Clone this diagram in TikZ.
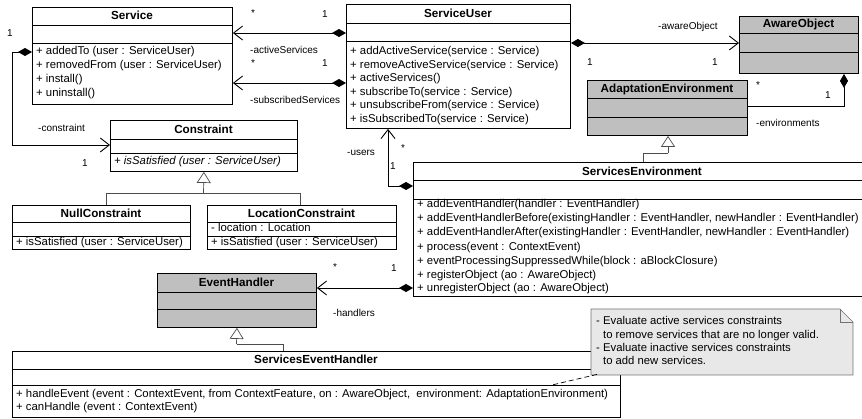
\documentclass[tikz,border=0pt]{standalone}
\usepackage{fontspec}
\setmainfont{Liberation Sans}
\usetikzlibrary{arrows.meta}
\begin{document}
\begin{tikzpicture}[x=1pt,y=-1pt,
  cls/.style={draw, line width=0.9pt, inner sep=0, anchor=north west, fill=white},
  gcls/.style={cls, fill=black!25},
  sep/.style={line width=0.9pt},
  ttl/.style={font=\fontsize{11.7}{14}\selectfont\bfseries, inner sep=0},
  mem/.style={font=\fontsize{11.35}{14}\selectfont, anchor=west, inner sep=0, text height=8.5pt, text depth=2.5pt},
  notetxt/.style={font=\fontsize{11.3}{14}\selectfont, anchor=west, inner sep=0, text height=8.5pt, text depth=2.5pt},
  lbl/.style={font=\fontsize{10}{12}\selectfont, inner sep=0},
  assoc/.style={line width=0.9pt, {Diamond[length=14pt,width=8pt]}-{Straight Barb[length=9pt,width=14pt]}},
  comp/.style={line width=0.9pt, {Diamond[length=14pt,width=8pt]}-},
  gen/.style={line width=0.7pt, draw=black!70, -{Triangle[open,length=11pt,width=14pt,fill=white]}},
  genline/.style={line width=0.7pt, draw=black!70},
  notelink/.style={line width=0.7pt, dashed, dash pattern=on 5pt off 3pt}
]
\useasboundingbox (0,0) rectangle (862,419);
\clip (0,0) rectangle (862,419);

% ---------- Service ----------
\node[cls, minimum width=200pt, minimum height=97pt] (service) at (32,7) {};
\draw[sep] (32,25) -- (232,25) (32,43) -- (232,43);
\node[ttl] (serviceT) at (132,15.5) {Service};
\node[mem] (s1) at (36,52) {+ addedTo (user : ServiceUser)};
\node[mem] (s2) at (36,66) {+ removedFrom (user : ServiceUser)};
\node[mem] (s3) at (36,80) {+ install()};
\node[mem] (s4) at (36,94) {+ uninstall()};

% ---------- ServiceUser ----------
\node[cls, minimum width=224pt, minimum height=124pt] (suser) at (346,4) {};
\draw[sep] (346,23) -- (570,23) (346,41) -- (570,41);
\node[ttl] (suserT) at (458,13) {ServiceUser};
\node[mem] (u1) at (350,52) {+ addActiveService(service : Service)};
\node[mem] (u2) at (350,65.5) {+ removeActiveService(service : Service)};
\node[mem] (u3) at (350,79) {+ activeServices()};
\node[mem] (u4) at (350,92.5) {+ subscribeTo(service : Service)};
\node[mem] (u5) at (350,106) {+ unsubscribeFrom(service : Service)};
\node[mem] (u6) at (350,119.5) {+ isSubscribedTo(service : Service)};

% ---------- AwareObject ----------
\node[gcls, minimum width=119pt, minimum height=57pt] (aware) at (739,16) {};
\draw[sep] (739,33) -- (858,33) (739,52) -- (858,52);
\node[ttl] (awareT) at (798.5,24.5) {AwareObject};

% ---------- AdaptationEnvironment ----------
\node[gcls, minimum width=160pt, minimum height=55pt] (adapt) at (587,80) {};
\draw[sep] (587,98) -- (747,98) (587,117) -- (747,117);
\node[ttl] (adaptT) at (667,89) {AdaptationEnvironment};

% ---------- Constraint ----------
\node[cls, minimum width=187pt, minimum height=51pt] (constraint) at (110,120) {};
\draw[sep] (110,139) -- (297,139) (110,153) -- (297,153);
\node[ttl] (constraintT) at (203.5,129) {Constraint};
\node[mem] (c1) at (114,161.5) {\itshape + isSatisfied (user : ServiceUser)};

% ---------- NullConstraint ----------
\node[cls, minimum width=178pt, minimum height=44pt] (nullc) at (12,205) {};
\draw[sep] (12,222) -- (190,222) (12,236) -- (190,236);
\node[ttl] (nullcT) at (101,213.5) {NullConstraint};
\node[mem] (n1) at (16,243) {+ isSatisfied (user : ServiceUser)};

% ---------- LocationConstraint ----------
\node[cls, minimum width=189pt, minimum height=44pt] (locc) at (207,205) {};
\draw[sep] (207,222) -- (396,222) (207,236) -- (396,236);
\node[ttl] (loccT) at (301.5,213.5) {LocationConstraint};
\node[mem] (l1) at (211,229) {- location : Location};
\node[mem] (l2) at (211,243) {+ isSatisfied (user : ServiceUser)};

% ---------- ServicesEnvironment ----------
\node[cls, minimum width=458pt, minimum height=134pt] (senv) at (413,162) {};
\draw[sep] (413,180) -- (871,180) (413,199) -- (871,199);
\node[ttl] (senvT) at (642,171) {ServicesEnvironment};
\node[mem] (e1) at (417,205) {+ addEventHandler(handler : EventHandler)};
\node[mem] (e2) at (417,219) {+ addEventHandlerBefore(existingHandler : EventHandler, newHandler : EventHandler)};
\node[mem] (e3) at (417,233) {+ addEventHandlerAfter(existingHandler : EventHandler, newHandler : EventHandler)};
\node[mem] (e4) at (417,247.5) {+ process(event : ContextEvent)};
\node[mem] (e5) at (417,261.5) {+ eventProcessingSuppressedWhile(block : aBlockClosure)};
\node[mem] (e6) at (417,275.5) {+ registerObject (ao : AwareObject)};
\node[mem] (e7) at (417,289) {+ unregisterObject (ao : AwareObject)};

% ---------- EventHandler ----------
\node[gcls, minimum width=159pt, minimum height=54pt] (evh) at (157,273) {};
\draw[sep] (157,292) -- (316,292) (157,309) -- (316,309);
\node[ttl] (evhT) at (236.5,282) {EventHandler};

% ---------- ServicesEventHandler ----------
\node[cls, minimum width=608pt, minimum height=66pt] (sevh) at (12,351) {};
\draw[sep] (12,369) -- (620,369) (12,385) -- (620,385);
\node[ttl] (sevhT) at (316,359.5) {ServicesEventHandler};
\node[mem] (h1) at (16,394.5) {+ handleEvent (event : ContextEvent, from ContextFeature, on : AwareObject, \ environment: AdaptationEnvironment)};
\node[mem] (h2) at (16,407.5) {+ canHandle (event : ContextEvent)};

% ---------- Note ----------
\draw[line width=0.6pt, draw=black!55, fill=black!9] (591,309) -- (840,309) -- (853,322) -- (853,375) -- (591,375) -- cycle;
\draw[line width=0.6pt, draw=black!55] (840,309) -- (840,322) -- (853,322);
\node[inner sep=0, minimum width=262pt, minimum height=66pt, anchor=north west] (note) at (591,309) {};
\node[notetxt] (t1) at (596,322) {- Evaluate active services constraints};
\node[notetxt] (t2) at (596,335.5) {\phantom{- }to remove services that are no longer valid.};
\node[notetxt] (t3) at (596,349) {- Evaluate inactive services constraints};
\node[notetxt] (t4) at (596,362) {\phantom{- }to add new services.};
\coordinate (notetail) at (552,385);
\draw[notelink] (note.south west) ++(6,-1) -- (notetail);

% ---------- Connectors ----------
\draw[assoc] (suser.west |- 0,33) -- (service.east |- 0,33);
\draw[assoc] (suser.west |- 0,83) -- (service.east |- 0,83);
\draw[assoc] (service.west |- 0,52) -- (12,52) -- (12,145) -- (constraint.west |- 0,145);
\draw[assoc] (suser.east |- 0,43) -- (aware.west |- 0,43);
\draw[comp] (aware.south -| 844,0) -- (844,106) -- (adapt.east |- 0,106);
\draw[assoc] (senv.west |- 0,186) -- (388,186) -- (suser.south -| 388,0);
\draw[assoc] (senv.west |- 0,288) -- (evh.east |- 0,288);

% generalizations
\draw[genline] (senv.north -| 643,0) -- (643,153) -- (668,153);
\draw[gen] (668,153) -- (adapt.south -| 668,0);
\draw[genline] (nullc.north -| 106,0) -- (106,193) -- (300,193) -- (locc.north -| 300,0);
\draw[gen] (203.5,193) -- (constraint.south);
\draw[genline] (sevh.north -| 283,0) -- (283,344) -- (236.5,344);
\draw[gen] (236.5,344) -- (evh.south);

% ---------- Labels ----------
\node[lbl] (m1) at (253,13) {*};
\node[lbl] (m2) at (325,14) {1};
\node[lbl, anchor=west] (r1) at (250,50) {-activeServices};
\node[lbl] (m3) at (253,63) {*};
\node[lbl] (m4) at (325,63) {1};
\node[lbl, anchor=west] (r2) at (250,100) {-subscribedServices};
\node[lbl] (m5) at (10,33) {1};
\node[lbl, anchor=west] (r3) at (38,128) {-constraint};
\node[lbl] (m6) at (85,163) {1};
\node[lbl, anchor=west] (r4) at (658,27) {-awareObject};
\node[lbl] (m7) at (590,62) {1};
\node[lbl] (m8) at (715,62) {1};
\node[lbl] (m9) at (758,85) {*};
\node[lbl] (m10) at (828,95) {1};
\node[lbl, anchor=west] (r5) at (756,123) {-environments};
\node[lbl, anchor=west] (r6) at (347,153) {-users};
\node[lbl] (m11) at (403,148) {*};
\node[lbl] (m12) at (393,166) {1};
\node[lbl] (m13) at (335,267) {*};
\node[lbl] (m14) at (394,268) {1};
\node[lbl, anchor=west] (r7) at (333,313) {-handlers};
\end{tikzpicture}
\end{document}
